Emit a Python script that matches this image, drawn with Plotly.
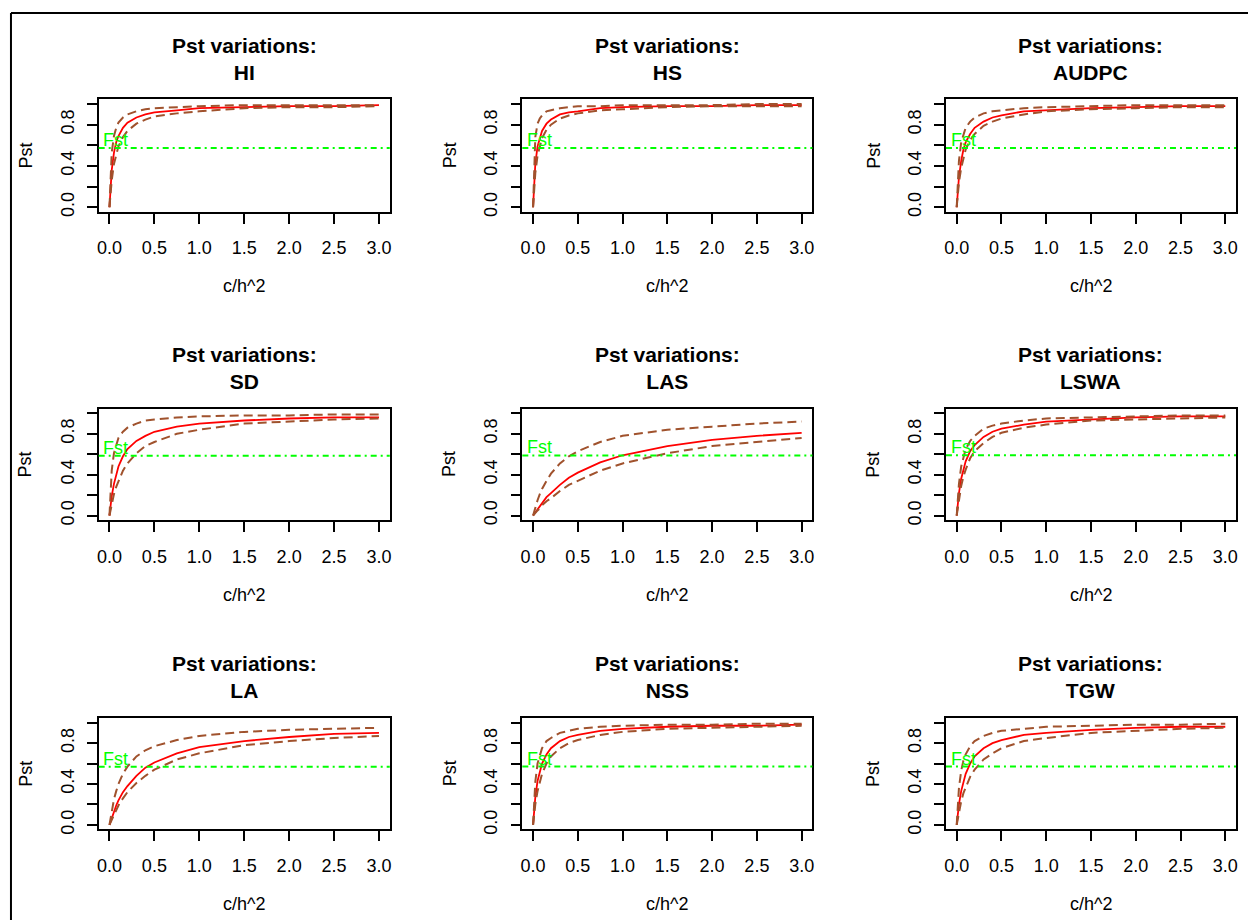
import plotly.graph_objects as go

W, H = 1248, 920

traits = ["HI", "HS", "AUDPC", "SD", "LAS", "LSWA", "LA", "NSS", "TGW"]

x_vals = [0, 0.025, 0.05, 0.075, 0.1, 0.15, 0.2, 0.3, 0.4, 0.5, 0.75, 1.0, 1.5, 2.0, 2.5, 3.0]

hi_mean = [0, .36, .53, .63, .69, .77, .82, .87, .90, .92, .94, .96, .97, .98, .98, .99]
hi_upper = [0, .53, .69, .77, .82, .87, .90, .93, .95, .96, .97, .98, .99, .99, .99, .99]
hi_lower = [0, .26, .42, .52, .59, .68, .74, .81, .85, .88, .91, .93, .96, .97, .97, .98]

hs_mean = [0, .42, .59, .68, .74, .81, .85, .90, .92, .93, .96, .97, .98, .98, .99, .99]
hs_upper = [0, .68, .81, .86, .89, .93, .94, .96, .97, .98, .98, .99, .99, .99, 1.0, 1.0]
hs_lower = [0, .33, .50, .60, .67, .75, .80, .86, .89, .91, .94, .95, .97, .98, .98, .98]

audpc_mean = [0, .29, .45, .56, .63, .71, .77, .83, .87, .89, .93, .94, .96, .97, .98, .98]
audpc_upper = [0, .45, .63, .71, .77, .83, .87, .91, .93, .94, .96, .97, .98, .99, .99, .99]
audpc_lower = [0, .24, .38, .48, .56, .65, .71, .79, .83, .86, .90, .93, .95, .96, .97, .97]

sd_mean = [0, .19, .31, .41, .48, .58, .65, .73, .78, .82, .87, .90, .93, .95, .96, .96]
sd_upper = [0, .44, .61, .70, .76, .82, .86, .90, .93, .94, .96, .97, .98, .98, .99, .99]
sd_lower = [0, .12, .21, .28, .34, .44, .51, .61, .68, .72, .80, .84, .90, .92, .94, .95]

las_mean = [0, .03, .07, .10, .13, .18, .22, .30, .37, .42, .52, .59, .68, .74, .78, .81]
las_upper = [0, .08, .15, .21, .26, .34, .41, .51, .58, .63, .72, .78, .84, .87, .90, .92]
las_lower = [0, .03, .05, .07, .10, .14, .17, .24, .30, .34, .44, .51, .61, .68, .72, .76]

lswa_mean = [0, .22, .36, .45, .53, .63, .69, .77, .82, .85, .89, .92, .94, .96, .97, .97]
lswa_upper = [0, .31, .48, .58, .65, .73, .78, .85, .88, .90, .93, .95, .96, .97, .98, .98]
lswa_lower = [0, .17, .29, .38, .45, .56, .63, .71, .77, .81, .86, .89, .93, .94, .95, .96]

la_mean = [0, .07, .14, .19, .24, .32, .38, .48, .56, .61, .70, .76, .82, .86, .89, .90]
la_upper = [0, .14, .25, .33, .40, .50, .57, .67, .73, .77, .83, .87, .91, .93, .94, .95]
la_lower = [0, .05, .10, .15, .19, .26, .32, .41, .48, .54, .64, .70, .78, .82, .85, .87]

nss_mean = [0, .27, .43, .53, .60, .69, .75, .82, .86, .88, .92, .94, .96, .97, .97, .98]
nss_upper = [0, .42, .60, .69, .75, .82, .85, .90, .92, .94, .96, .97, .98, .98, .99, .99]
nss_lower = [0, .20, .33, .43, .50, .60, .67, .75, .80, .83, .88, .91, .94, .95, .96, .97]

tgw_mean = [0, .20, .33, .43, .50, .60, .67, .75, .80, .83, .88, .90, .93, .95, .96, .96]
tgw_upper = [0, .36, .53, .63, .69, .77, .82, .87, .90, .92, .94, .96, .97, .98, .98, .99]
tgw_lower = [0, .13, .23, .31, .37, .47, .54, .64, .70, .75, .82, .85, .90, .92, .94, .95]

fst_values = [0.574, 0.574, 0.574, 0.586, 0.588, 0.590, 0.568, 0.571, 0.570]

x_tick_vals = [0, 0.5, 1.0, 1.5, 2.0, 2.5, 3.0]
x_tick_text = ["0.0", "0.5", "1.0", "1.5", "2.0", "2.5", "3.0"]
y_tick_vals = [0, 0.2, 0.4, 0.6, 0.8, 1.0]
y_tick_text = ["0.0", "", "0.4", "", "0.8", ""]

means = [hi_mean, hs_mean, audpc_mean, sd_mean, las_mean, lswa_mean, la_mean, nss_mean, tgw_mean]
uppers = [hi_upper, hs_upper, audpc_upper, sd_upper, las_upper, lswa_upper, la_upper, nss_upper, tgw_upper]
lowers = [hi_lower, hs_lower, audpc_lower, sd_lower, las_lower, lswa_lower, la_lower, nss_lower, tgw_lower]

# layout geometry (pixels)
col_left = [97, 522, 947]
col_right = [389, 813, 1238]
row_top = [100, 411, 722]
row_bottom = [213, 523, 834]

FONT = "Liberation Sans, Arial, sans-serif"
RED = "#FF0000"
BROWN = "#A0522D"
GREEN = "#00FF00"

fig = go.Figure()
annotations = []
shapes = []

for i, trait in enumerate(traits):
    r, c = divmod(i, 3)
    n = i + 1
    xa = "x" if n == 1 else f"x{n}"
    ya = "y" if n == 1 else f"y{n}"
    L, R, T, B = col_left[c], col_right[c], row_top[r], row_bottom[r]

    fig.add_trace(go.Scatter(x=x_vals, y=means[i], mode="lines", xaxis=xa, yaxis=ya,
                             line=dict(color=RED, width=1.8), hoverinfo="skip"))
    fig.add_trace(go.Scatter(x=x_vals, y=lowers[i], mode="lines", xaxis=xa, yaxis=ya,
                             line=dict(color=BROWN, width=2, dash="9px,5px"), hoverinfo="skip"))
    fig.add_trace(go.Scatter(x=x_vals, y=uppers[i], mode="lines", xaxis=xa, yaxis=ya,
                             line=dict(color=BROWN, width=2, dash="9px,5px"), hoverinfo="skip"))

    xkey = "xaxis" if n == 1 else f"xaxis{n}"
    ykey = "yaxis" if n == 1 else f"yaxis{n}"
    fig.update_layout(**{
        xkey: dict(domain=[L / W, R / W], anchor=ya, range=[-0.12, 3.12],
                   tickvals=x_tick_vals, ticktext=x_tick_text, ticks="outside",
                   ticklen=10, tickwidth=1.5, tickcolor="black",
                   showline=True, linecolor="black", linewidth=1.5, mirror=True,
                   showgrid=False, zeroline=False, ticklabelstandoff=9,
                   tickfont=dict(family=FONT, size=18, color="black")),
        ykey: dict(domain=[1 - B / H, 1 - T / H], anchor=xa, range=[-0.045, 1.045],
                   tickvals=y_tick_vals, ticktext=y_tick_text, ticks="outside",
                   ticklen=10, tickwidth=1.5, tickcolor="black", tickangle=-90,
                   showline=True, linecolor="black", linewidth=1.5, mirror=True,
                   showgrid=False, zeroline=False, ticklabelstandoff=6,
                   tickfont=dict(family=FONT, size=18, color="black")),
    })

    # Fst reference line
    shapes.append(dict(type="line", xref=f"{xa} domain", yref=ya, x0=0, x1=1,
                       y0=fst_values[i], y1=fst_values[i],
                       line=dict(color=GREEN, width=2, dash="6px,4px,2px,4px"), layer="above"))
    annotations.append(dict(text="Fst", xref=xa, yref=ya, x=-0.09, y=fst_values[i],
                            xanchor="left", yanchor="bottom", yshift=-4, showarrow=False,
                            font=dict(family=FONT, size=18, color=GREEN)))

    cx = (L + R) / 2 / W
    annotations.append(dict(text=f"<b>Pst variations:<br>{trait}</b>", xref="paper", yref="paper",
                            x=cx, y=1 - (T - 41) / H, xanchor="center", yanchor="middle",
                            showarrow=False, font=dict(family=FONT, size=21, color="black")))
    annotations.append(dict(text="c/h^2", xref="paper", yref="paper",
                            x=cx, y=1 - (B + 75) / H, xanchor="center", yanchor="middle",
                            showarrow=False, font=dict(family=FONT, size=18, color="black")))
    annotations.append(dict(text="Pst", xref="paper", yref="paper", textangle=-90,
                            x=(L - 73) / W, y=1 - (T + B) / 2 / H, xanchor="center", yanchor="middle",
                            showarrow=False, font=dict(family=FONT, size=18, color="black")))

# outer frame (top and left edges visible)
shapes.append(dict(type="line", xref="paper", yref="paper", x0=9 / W, x1=9 / W,
                   y0=-0.02, y1=1 - 13 / H, line=dict(color="black", width=2)))
shapes.append(dict(type="line", xref="paper", yref="paper", x0=9 / W, x1=1.02,
                   y0=1 - 13 / H, y1=1 - 13 / H, line=dict(color="black", width=2)))

fig.update_layout(width=W, height=H, margin=dict(l=0, r=0, t=0, b=0),
                  paper_bgcolor="white", plot_bgcolor="white", showlegend=False,
                  annotations=annotations, shapes=shapes)

fig.write_html("out.html", config={"displayModeBar": False},
               post_script="document.body.style.margin='0';document.body.style.overflow='hidden';")
